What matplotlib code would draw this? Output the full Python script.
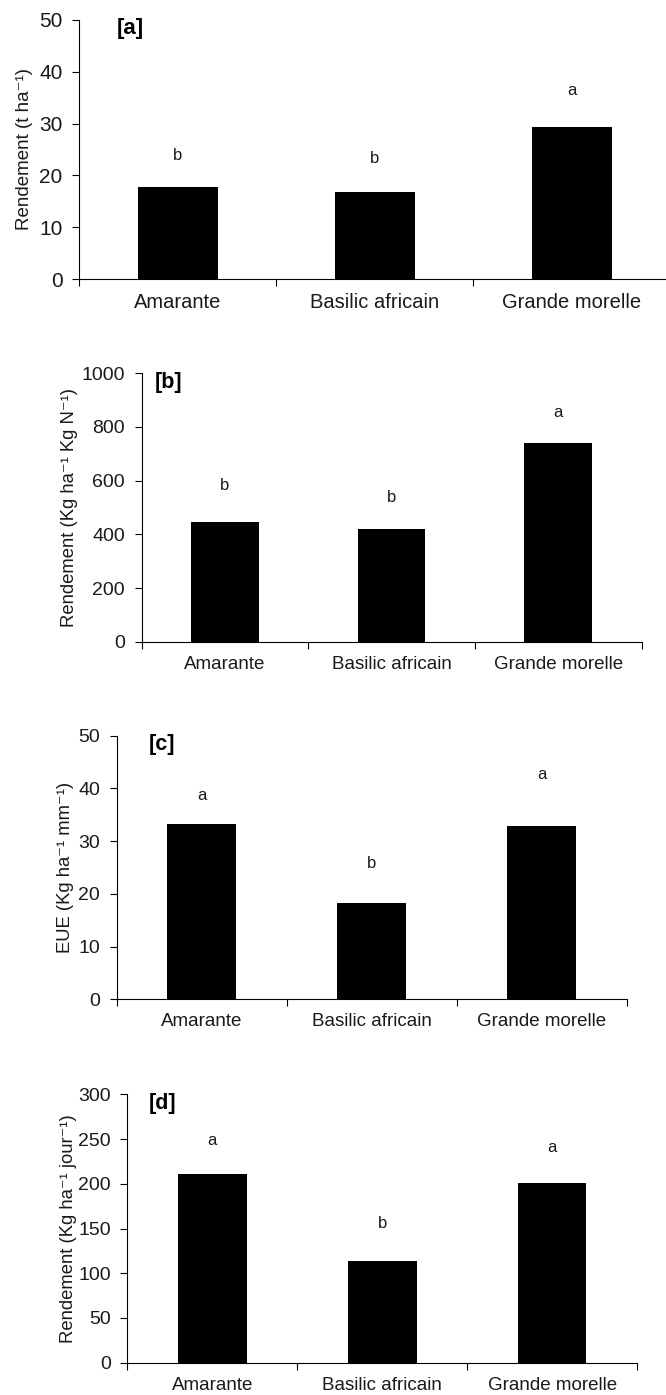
import matplotlib
matplotlib.use("Agg")
import matplotlib.pyplot as plt
from matplotlib import font_manager

names = {f.name for f in font_manager.fontManager.ttflist}
fam = "Liberation Sans" if "Liberation Sans" in names else "DejaVu Sans"
plt.rcParams['font.family'] = [fam, 'DejaVu Sans']

categories = ["Amarante", "Basilic africain", "Grande morelle"]

vals_a = [17.8, 16.9, 29.4]
vals_b = [445, 419, 739]
vals_c = [33.3, 18.3, 32.8]
vals_d = [211, 114, 201]

letters_a = ["b", "b", "a"]
letters_b = ["b", "b", "a"]
letters_c = ["a", "b", "a"]
letters_d = ["a", "b", "a"]

letter_y_a = [23.9, 23.2, 36.3]
letter_y_b = [581, 537, 855]
letter_y_c = [38.6, 25.8, 42.7]
letter_y_d = [248, 156, 240]

ylabels = ["Rendement (t ha\u207b\u00b9)",
           "Rendement (Kg ha\u207b\u00b9 Kg N\u207b\u00b9)",
           "EUE (Kg ha\u207b\u00b9 mm\u207b\u00b9)",
           "Rendement (Kg ha\u207b\u00b9 jour\u207b\u00b9)"]
panel_tags = ["[a]", "[b]", "[c]", "[d]"]
ymaxes = [50, 1000, 50, 300]
ysteps = [10, 200, 10, 50]

W, H = 666, 1395
fig = plt.figure(figsize=(W / 100, H / 100), dpi=100)

# pixel boxes: left, right, top, bottom
boxes = [(79.4, 670.5, 19.7, 279.3),
         (141.5, 641.5, 373.3, 641.7),
         (116.8, 626.6, 735.7, 999.3),
         (127.4, 637.0, 1094.3, 1362.7)]
label_right_px = [33, 78, 74, 77]
tick_fs = [15, 14, 14, 14]
xlab_fs = [14.5, 13.5, 13.5, 13.5]
ylab_fs = [13.5, 13.3, 13.3, 13.3]
tag_x_px = [117, 155, 149, 149]
tag_fs = [16, 15.5, 15.5, 15.5]

all_vals = [vals_a, vals_b, vals_c, vals_d]
all_letters = [letters_a, letters_b, letters_c, letters_d]
all_ly = [letter_y_a, letter_y_b, letter_y_c, letter_y_d]
tcol = "#1a1a1a"

for i in range(4):
    l, r, t, b = boxes[i]
    ax = fig.add_axes([l / W, 1 - b / H, (r - l) / W, (b - t) / H])
    x = [0.5, 1.5, 2.5]
    ax.bar(x, all_vals[i], width=0.405, color="black", edgecolor="black", linewidth=0)
    ax.set_xlim(0, 3)
    ax.set_ylim(0, ymaxes[i])
    ax.set_yticks(list(range(0, ymaxes[i] + 1, ysteps[i])))
    ax.set_xticks([0, 1, 2, 3])
    ax.set_xticklabels([])
    ax.set_xticks(x, minor=True)
    ax.set_xticklabels(categories, minor=True, fontsize=xlab_fs[i], color=tcol)
    ax.tick_params(axis='x', which='minor', length=0, pad=10)
    ax.tick_params(axis='x', which='major', length=5, width=0.8, direction='out')
    ax.tick_params(axis='y', length=5, width=0.8, direction='out',
                   labelsize=tick_fs[i], pad=7, labelcolor=tcol)
    for s in ['top', 'right']:
        ax.spines[s].set_visible(False)
    for s in ['left', 'bottom']:
        ax.spines[s].set_linewidth(0.8)
    ax.set_ylabel(ylabels[i], fontsize=ylab_fs[i], color=tcol)
    ax.yaxis.set_label_coords((label_right_px[i] - l) / (r - l), 0.5)
    ax.text((tag_x_px[i] - l) / (r - l) * 3, ymaxes[i] * 0.965, panel_tags[i],
            fontsize=tag_fs[i], fontweight='bold', ha='left', va='center', color="black")
    for xi, lt, ly in zip(x, all_letters[i], all_ly[i]):
        ax.text(xi, ly, lt, fontsize=12, ha='center', va='center', color=tcol)

fig.savefig("out.png", dpi=100)
